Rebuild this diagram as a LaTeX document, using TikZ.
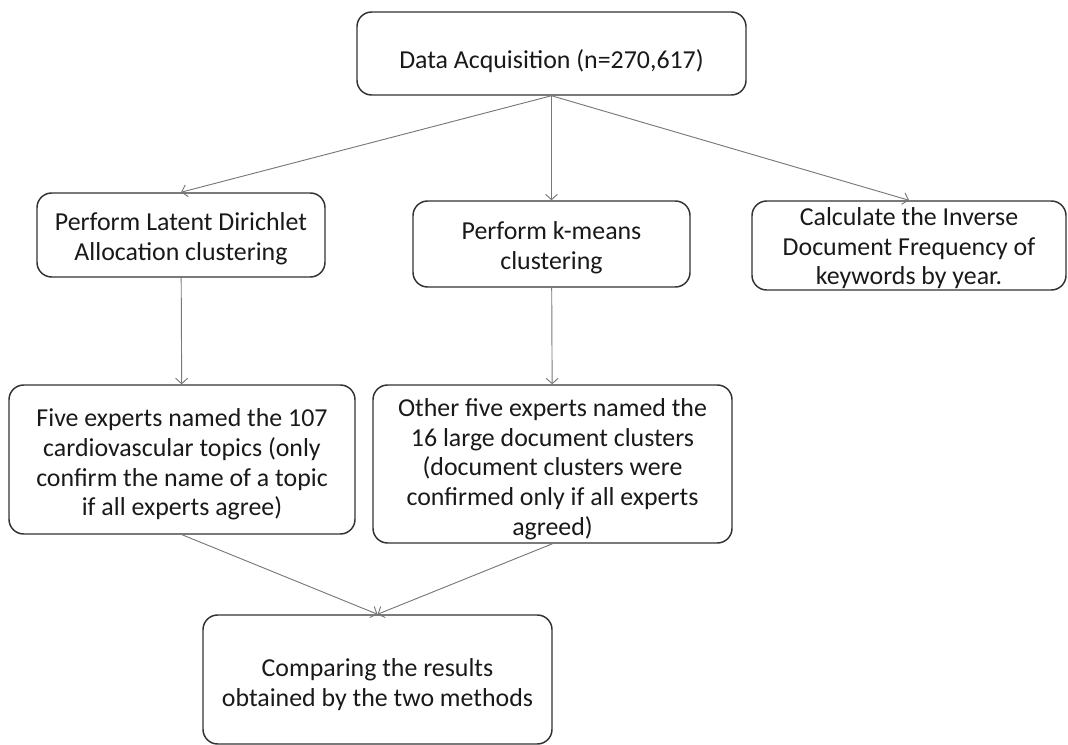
\documentclass[tikz,border=0pt]{standalone}
\usepackage{fontspec}
\setmainfont{Carlito}
\usetikzlibrary{arrows.meta}
\definecolor{bordergray}{RGB}{50, 50, 50}
\definecolor{linegray}{RGB}{120, 120, 120}
\definecolor{textblack}{RGB}{25, 25, 25}
% pushes the first line down a little
\newcommand{\downstrut}[1]{\rule{0pt}{#1}}

\begin{document}
\begin{tikzpicture}[
    x=0.75pt, y=-0.75pt,
    font=\fontsize{19.4}{22.3}\selectfont,
    block/.style={
        draw=bordergray,
        line width=1.1pt,
        rectangle,
        rounded corners=11pt,
        align=center,
        text=textblack,
        inner sep=0pt
    },
    arrow/.style={-{Straight Barb[length=4pt, width=9pt]}, line width=0.7pt, color=linegray}
]

    \useasboundingbox (0,0) rectangle (1068,745);

    % Nodes
    \node[block, minimum width=291.75pt, minimum height=62.25pt] (acq) at (551.5,53.5) {\downstrut{25.5pt}Data Acquisition (n=270,617)};
    \node[block, minimum width=216pt, minimum height=63pt] (lda) at (181,235) {\downstrut{19pt}Perform Latent Dirichlet\\Allocation clustering};
    \node[block, minimum width=207.75pt, minimum height=64.5pt] (kmeans) at (551.5,244) {\downstrut{19pt}Perform k-means\\clustering};
    \node[block, minimum width=235.5pt, minimum height=66.75pt] (idf) at (909,245.5) {\downstrut{17.5pt}Calculate the Inverse\\Document Frequency of\\keywords by year.};
    \node[block, minimum width=259.5pt, minimum height=111.75pt] (lda_names) at (182,459.5) {\downstrut{21pt}Five experts named the 107\\cardiovascular topics (only\\confirm the name of a topic\\if all experts agree)};
    \node[block, minimum width=269.25pt, minimum height=118.5pt] (km_names) at (552.5,464) {\downstrut{21pt}Other five experts named the\\16 large document clusters\\(document clusters were\\confirmed only if all experts\\agreed)};
    \node[block, minimum width=261.75pt, minimum height=96.75pt] (compare) at (377.5,679.5) {\downstrut{21pt}Comparing the results\\obtained by the two methods};

    % Edges
    \draw[arrow] (acq.south) -- (lda.north);
    \draw[arrow] (acq.south) -- (kmeans.north);
    \draw[arrow] (acq.south) -- (idf.north);
    \draw[arrow] (lda) -- (lda_names);
    \draw[arrow] (kmeans) -- (km_names);
    \draw[arrow] (lda_names.south) -- (compare.north);
    \draw[arrow] (km_names.south) -- (compare.north);

\end{tikzpicture}
\end{document}
